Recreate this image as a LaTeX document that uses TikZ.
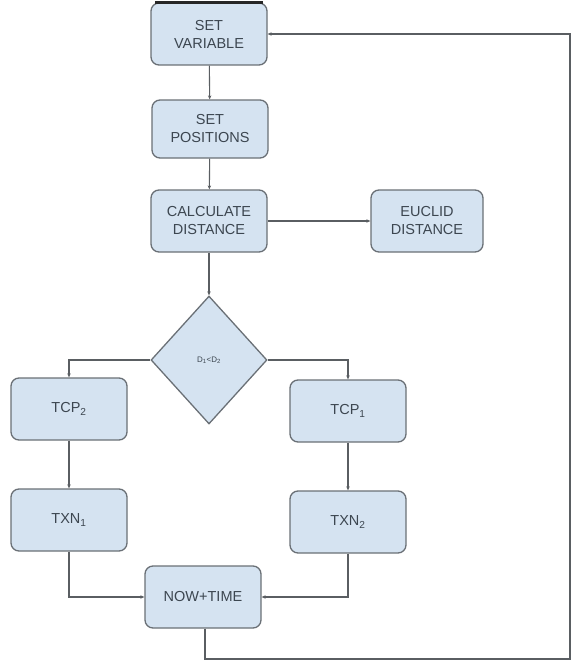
\documentclass[tikz,border=0pt]{standalone}
\usepackage{fontspec}
\setmainfont{Liberation Sans}
\usetikzlibrary{shapes.geometric,arrows.meta}
\definecolor{boxfill}{HTML}{D5E3F1}
\definecolor{boxline}{HTML}{6A7076}
\definecolor{boxtext}{HTML}{3C4650}
\definecolor{wire}{HTML}{5A5E62}
\begin{document}
\begin{tikzpicture}[x=1pt,y=-1pt,
  stepbox/.style={draw=boxline,line width=1.3pt,fill=boxfill,rounded corners=8pt,
    minimum width=116pt,minimum height=62pt,inner sep=2pt,align=center,
    text=boxtext,font=\fontsize{14.5}{18}\selectfont},
  decision/.style={diamond,draw=boxline,line width=1.3pt,fill=boxfill,
    minimum width=116pt,minimum height=128pt,inner sep=0pt,text=boxtext,
    font=\fontsize{8}{9}\selectfont},
  flow/.style={draw=wire,line width=1.1pt,-{Stealth[length=4pt,width=3.5pt]}}]
\useasboundingbox (0,0) rectangle (573,661);

% process boxes
\node[stepbox] (var) at (209,34) {SET\\VARIABLE};
\node[stepbox,minimum height=58pt] (pos) at (210,129) {SET\\POSITIONS};
\node[stepbox] (calc) at (209,221) {CALCULATE\\DISTANCE};
\node[stepbox,minimum width=112pt] (eucl) at (427,221) {EUCLID\\DISTANCE};
\node[decision] (cmp) at (209,360) {D\textsubscript{1}<D\textsubscript{2}};
\node[stepbox] (tcpb) at (69,409) {TCP\textsubscript{2}};
\node[stepbox] (tcpa) at (348,411) {TCP\textsubscript{1}};
\node[stepbox] (txna) at (69,520) {TXN\textsubscript{1}};
\node[stepbox] (txnb) at (348,522) {TXN\textsubscript{2}};
\node[stepbox] (now) at (203,597) {NOW+TIME};

% heavy top edge of the first box
\draw[black!85,line width=3pt] ([xshift=5pt]var.north west) -- ([xshift=-5pt]var.north east);

% main flow
\draw[flow] (var) -- (pos);
\draw[flow] (pos) -- (calc);
\draw[flow] (calc) -- (eucl);
\draw[flow] (calc) -- (cmp);
\draw[flow] (cmp.west) -| (tcpb.north);
\draw[flow] (cmp.east) -| (tcpa.north);
\draw[flow] (tcpb) -- (txna);
\draw[flow] (tcpa) -- (txnb);
\draw[flow] (txna.south) |- (now.west);
\draw[flow] (txnb.south) |- (now.east);

% loop back to the start
\coordinate (c1) at (205,659);
\coordinate (c2) at (570,659);
\coordinate (c3) at (570,34);
\draw[flow] ([xshift=2pt]now.south) -- (c1) -- (c2) -- (c3) -- (var.east);
\end{tikzpicture}
\end{document}
